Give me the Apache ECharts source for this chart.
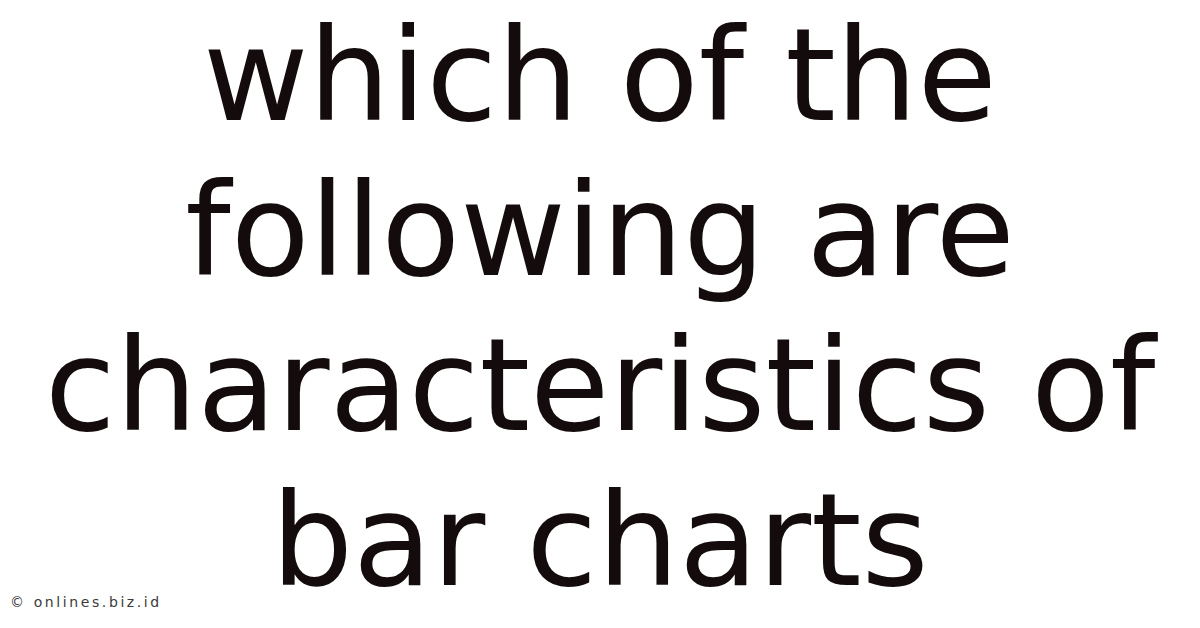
<!DOCTYPE html>
<html><head><meta charset="utf-8">
<script src="https://cdn.jsdelivr.net/npm/echarts@6/dist/echarts.min.js"></script>
<style>html,body{margin:0;padding:0;background:#fff}#c{width:1200px;height:628px}
#c svg text[style*="14px"]{letter-spacing:2.6px}
</style>
</head><body><div id="c"></div>
<script>
const titleLines = ["which of the", "following are", "characteristics of", "bar charts"];
const watermark = "\u00a9 onlines.biz.id";

const chart = echarts.init(document.getElementById('c'), null, { renderer: 'svg' });
const fontSize = 129, lineGap = 155, firstBaseline = 120;
const graphics = titleLines.map((t, i) => ({
  type: 'text',
  x: 600,
  y: firstBaseline + i * lineGap - 45,
  style: {
    text: t,
    fill: '#140c0c',
    font: 'normal ' + fontSize + 'px "DejaVu Sans"',
    align: 'center',
    verticalAlign: 'middle'
  }
}));
graphics.push({
  type: 'text', x: 10, y: 602,
  style: { text: watermark, fill: '#3a3a3a', font: '14px "DejaVu Sans"', align: 'left', verticalAlign: 'middle' }
});
chart.setOption({ backgroundColor: '#fff', graphic: graphics });
</script></body></html>
